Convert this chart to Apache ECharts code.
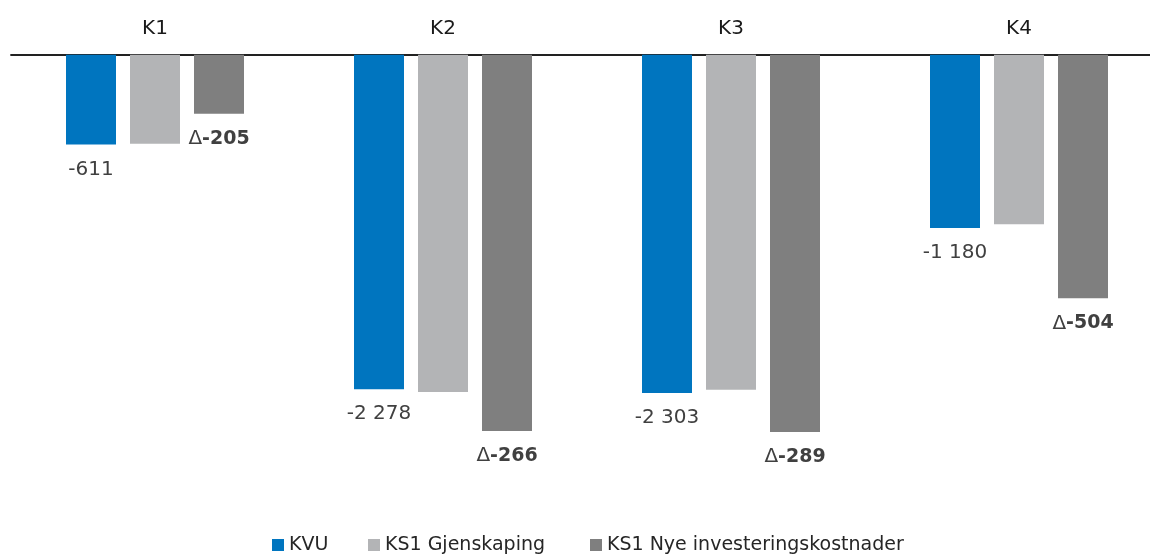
<!DOCTYPE html>
<html>
<head>
<meta charset="utf-8">
<script src="https://cdn.jsdelivr.net/npm/echarts@6/dist/echarts.min.js"></script>
<style>
  html, body { margin: 0; padding: 0; background: #ffffff; }
  #chart { width: 1150px; height: 556px; }
</style>
</head>
<body>
<div id="chart"></div>
<script>
// Categories and series (values in MNOK, negative = net cost)
var categories = ['K1', 'K2', 'K3', 'K4'];
var seriesNames = ['KVU', 'KS1 Gjenskaping', 'KS1 Nye investeringskostnader'];
var kvu = [-611, -2278, -2303, -1180];
var ks1Gjenskaping = [-606, -2297, -2281, -1155];
var ks1Nye = [-401, -2563, -2570, -1659];
// Change shown under the "Nye investeringskostnader" bars
var deltas = [-205, -266, -289, -504];

var FONT = 'DejaVu Sans';

function fmt(v) {
  var s = String(Math.abs(v)).replace(/\B(?=(\d{3})+(?!\d))/g, ' ');
  return (v < 0 ? '-' : '') + s;
}

var chart = echarts.init(document.getElementById('chart'), null, { renderer: 'canvas' });

function legendAt(name, left) {
  return {
    data: [name],
    left: left,
    top: 535.5,
    padding: 0,
    icon: 'rect',
    itemWidth: 12,
    itemHeight: 12,
    itemGap: 0,
    selectedMode: false,
    textStyle: { fontFamily: FONT, fontSize: 19, lineHeight: 19, color: '#262626' }
  };
}

chart.setOption({
  animation: false,
  backgroundColor: '#ffffff',
  textStyle: { fontFamily: FONT },
  // plot area runs a little past the right edge so every category band is 288px wide
  grid: {
    left: 11, width: 1152, top: 54.8, height: 440.4,
    containLabel: false,
    outerBoundsMode: 'none'
  },
  legend: [
    legendAt(seriesNames[0], 272),
    legendAt(seriesNames[1], 368),
    legendAt(seriesNames[2], 590)
  ],
  xAxis: {
    type: 'category',
    position: 'top',
    data: categories,
    axisTick: { show: false },
    axisLine: { lineStyle: { color: '#222222', width: 1.8 } },
    axisLabel: { margin: 16, fontFamily: FONT, fontSize: 20, color: '#1a1a1a' }
  },
  yAxis: {
    type: 'value',
    min: -3000,
    max: 0,
    show: false,
    splitLine: { show: false }
  },
  series: [
    {
      name: seriesNames[0],
      type: 'bar',
      data: kvu,
      barWidth: 50,
      barGap: '28%',
      itemStyle: { color: '#0075BF' },
      label: {
        show: true,
        position: 'bottom',
        distance: 15,
        fontFamily: FONT,
        fontSize: 20,
        lineHeight: 20,
        color: '#404040',
        formatter: function (p) { return fmt(p.value); }
      }
    },
    {
      name: seriesNames[1],
      type: 'bar',
      data: ks1Gjenskaping,
      barWidth: 50,
      barGap: '28%',
      itemStyle: { color: '#B3B4B6' }
    },
    {
      name: seriesNames[2],
      type: 'bar',
      data: ks1Nye,
      barWidth: 50,
      barGap: '28%',
      itemStyle: { color: '#7F7F7F' },
      label: {
        show: true,
        position: 'bottom',
        distance: 15,
        formatter: function (p) { return '{d|\u0394}{v|' + fmt(deltas[p.dataIndex]) + '}'; },
        rich: {
          d: { fontFamily: FONT, fontSize: 20, lineHeight: 20, color: '#404040', fontWeight: 'normal' },
          v: { fontFamily: FONT, fontSize: 19, lineHeight: 20, color: '#404040', fontWeight: 'bold' }
        }
      }
    }
  ]
});
</script>
</body>
</html>
